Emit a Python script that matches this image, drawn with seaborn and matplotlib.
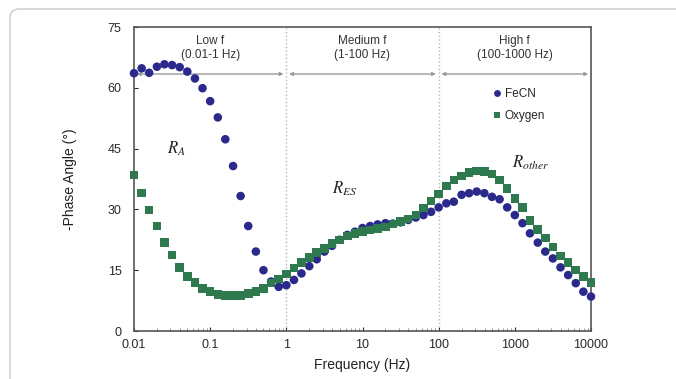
import numpy as np
import pandas as pd

import matplotlib.pyplot as plt
import seaborn as sns
from matplotlib.path import Path
from matplotlib.patches import PathPatch
from matplotlib.ticker import FixedLocator, FixedFormatter, LogLocator

# frequency sweep, 10 points per decade (Hz)
freq = [
    0.01, 0.0126, 0.0158, 0.02, 0.0251, 0.0316, 0.0398, 0.0501, 0.0631, 0.0794,
    0.1, 0.126, 0.158, 0.2, 0.251, 0.316, 0.398, 0.501, 0.631, 0.794,
    1, 1.26, 1.58, 2, 2.51, 3.16, 3.98, 5.01, 6.31, 7.94,
    10, 12.6, 15.8, 20, 25.1, 31.6, 39.8, 50.1, 63.1, 79.4,
    100, 126, 158, 200, 251, 316, 398, 501, 631, 794,
    1000, 1260, 1580, 2000, 2510, 3160, 3980, 5010, 6310, 7940,
    10000,
]

fecn = [
    63.6, 64.8, 63.7, 65.2, 65.8, 65.6, 65.1, 64.0, 62.3, 59.9,
    56.7, 52.7, 47.3, 40.7, 33.3, 25.9, 19.6, 15.0, 12.2, 10.9,
    11.3, 12.6, 14.2, 16.0, 17.7, 19.6, 21.0, 22.5, 23.7, 24.5,
    25.4, 25.9, 26.3, 26.6, 26.5, 26.8, 27.4, 28.0, 28.6, 29.4,
    30.5, 31.5, 31.9, 33.6, 34.0, 34.4, 34.0, 33.1, 32.5, 30.5,
    28.6, 26.6, 24.1, 21.8, 19.6, 17.9, 15.7, 13.8, 11.8, 9.7,
    8.5,
]

oxygen = [
    38.5, 34.0, 29.9, 25.9, 21.8, 18.8, 15.7, 13.4, 11.9, 10.5,
    9.7, 9.0, 8.7, 8.7, 8.7, 9.3, 9.7, 10.5, 11.8, 12.8,
    14.1, 15.5, 16.9, 18.2, 19.3, 20.4, 21.6, 22.5, 23.4, 24.1,
    24.5, 24.9, 25.3, 25.7, 26.4, 27.0, 27.6, 28.6, 30.3, 32.1,
    33.8, 35.8, 37.3, 38.2, 39.1, 39.5, 39.3, 38.7, 37.3, 35.2,
    32.7, 30.5, 27.2, 25.1, 22.9, 20.7, 18.5, 16.9, 15.0, 13.4,
    11.9,
]

x_ticks = [0.01, 0.1, 1, 10, 100, 1000, 10000]
x_labels = ["0.01", "0.1", "1", "10", "100", "1000", "10000"]
y_ticks = [0, 15, 30, 45, 60, 75]

region_edges = [0.01, 1, 100, 10000]
region_labels = ["Low f\n(0.01-1 Hz)", "Medium f\n(1-100 Hz)", "High f\n(100-1000 Hz)"]
region_centers = [0.1, 10, 1000]

colors = {"FeCN": "#2b2a8c", "Oxygen": "#2e7a4e"}

df = pd.DataFrame({
    "Frequency": freq + freq,
    "Phase": fecn + oxygen,
    "Electrolyte": ["FeCN"] * len(freq) + ["Oxygen"] * len(freq),
})

sns.set_style("white")
plt.rcParams["font.family"] = ["Liberation Sans", "DejaVu Sans"]
plt.rcParams["mathtext.fontset"] = "stix"

fig = plt.figure(figsize=(6.76, 3.79), dpi=100)
ax = fig.add_axes([134 / 676, 1 - 331 / 379, 457 / 676, 304 / 379])

# light frame round the figure: left edge, rounded corner, top edge (inches)
r = 0.09
x0, ytop = 0.10, 3.70
frame_path = Path(
    [(x0, -0.2), (x0, ytop - r), (x0, ytop), (x0 + r, ytop), (7.5, ytop)],
    [Path.MOVETO, Path.LINETO, Path.CURVE3, Path.CURVE3, Path.LINETO],
)
fig.add_artist(PathPatch(frame_path, transform=fig.dpi_scale_trans,
                         facecolor="none", edgecolor="#c8c8c8", linewidth=1.0))

sns.scatterplot(
    data=df,
    x="Frequency",
    y="Phase",
    hue="Electrolyte",
    style="Electrolyte",
    markers={"FeCN": "o", "Oxygen": "s"},
    palette=colors,
    s=38,
    linewidth=0,
    ax=ax,
    zorder=3,
    clip_on=False,
)

ax.set_xscale("log")
ax.set_xlim(0.01, 10000)
ax.set_ylim(0, 75)

ax.xaxis.set_major_locator(FixedLocator(x_ticks))
ax.xaxis.set_major_formatter(FixedFormatter(x_labels))
ax.xaxis.set_minor_locator(LogLocator(base=10, subs=np.arange(2, 10)))
ax.set_yticks(y_ticks)

ax.tick_params(axis="both", which="major", direction="in", length=3,
               labelsize=9, colors="#2a2a2a")
ax.tick_params(axis="x", which="major", pad=6)
ax.tick_params(axis="y", which="major", pad=9)
ax.tick_params(axis="x", which="minor", direction="in", length=2, color="#888888")
ax.tick_params(axis="y", which="both", left=True)
ax.tick_params(axis="x", which="both", bottom=True)

for sp in ax.spines.values():
    sp.set_color("#555555")
    sp.set_linewidth(1.2)

ax.set_xlabel("Frequency (Hz)", fontsize=10, color="#222222", labelpad=5)
ax.set_ylabel("-Phase Angle (°)", fontsize=10, color="#222222", labelpad=22)

# region dividers
for xv in region_edges[1:-1]:
    ax.axvline(xv, color="#b8b8b8", linestyle=":", linewidth=1, zorder=1)

# double headed arrows for the frequency ranges
for lo, hi in zip(region_edges[:-1], region_edges[1:]):
    ax.annotate(
        "",
        xy=(hi, 63.4), xytext=(lo, 63.4),
        arrowprops=dict(arrowstyle="<|-|>", color="#9a9a9a", lw=1,
                        mutation_scale=5, shrinkA=2, shrinkB=2),
        zorder=2,
    )

for xc, lab in zip(region_centers, region_labels):
    ax.text(xc, 69.8, lab, ha="center", va="center", fontsize=8.5,
            color="#333333", linespacing=1.25)

ax.text(0.036, 45, r"$R_A$", fontsize=12, ha="center", va="center", color="#222222")
ax.text(5.8, 35.2, r"$R_{ES}$", fontsize=12, ha="center", va="center", color="#222222")
ax.text(1600, 41.5, r"$R_{other}$", fontsize=12, ha="center", va="center", color="#222222")

handles, labels = ax.get_legend_handles_labels()
ax.legend(
    handles, labels,
    loc="upper left",
    bbox_to_anchor=(0.77, 0.818),
    frameon=False,
    fontsize=8.5,
    handlelength=0.8,
    handletextpad=0.3,
    labelspacing=0.8,
    borderpad=0,
    markerscale=0.8,
)

plt.savefig("out.png", dpi=100)
plt.close()
